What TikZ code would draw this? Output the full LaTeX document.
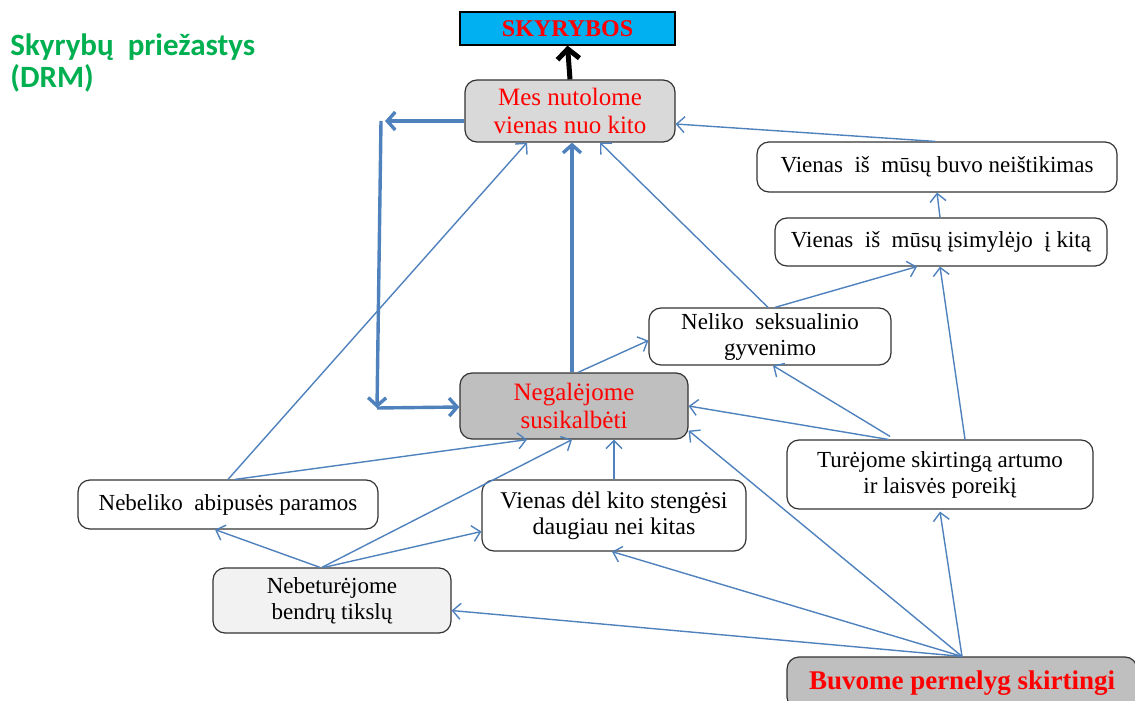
\documentclass[tikz,border=0pt]{standalone}
\usepackage{fontspec}
\setmainfont{Liberation Serif}
\newfontfamily\titlefont{Carlito}
\usetikzlibrary{calc,positioning,arrows.meta}

\definecolor{arrblue}{HTML}{4F81BD}
\definecolor{skyblue}{HTML}{00B0F0}
\definecolor{titlegreen}{HTML}{00B050}

\tikzset{
  cause/.style={draw=black!80,semithick,rounded corners=6pt,align=center,
    inner sep=2pt,font=\fontsize{11.5}{13}\selectfont,fill=white},
  keybox/.style={cause,text=red,font=\fontsize{12.5}{14}\selectfont},
  thinlink/.style={draw=arrblue,line width=0.7pt,-{Straight Barb[length=4pt,width=8pt]}},
  thicklink/.style={draw=arrblue,line width=1.7pt,-{Straight Barb[length=4pt,width=9pt,line width=1.7pt]}}
}

\begin{document}
\begin{tikzpicture}[x=0.5pt,y=-0.5pt]

\clip (0,0) rectangle (1135,701);

\node[anchor=north west,align=left,text=titlegreen,inner sep=0pt,
  font=\titlefont\bfseries\fontsize{15.5}{16}\selectfont] (title) at (10,33)
  {Skyrybų\ \ priežastys\\(DRM)};

\node[draw=black,semithick,fill=skyblue,minimum width=107.5pt,minimum height=16.5pt,
  text=red,font=\bfseries\fontsize{12}{13}\selectfont] (sky) at (567.5,28.5) {SKYRYBOS};

\node[keybox,fill=black!15,minimum width=105pt,minimum height=31pt] (mes) at (570,111)
  {Mes nutolome\\vienas nuo kito};
\node[keybox,fill=black!25,minimum width=114pt,minimum height=33pt] (neg) at (574,406)
  {Negalėjome\\susikalbėti};

\node[cause,minimum width=180pt,minimum height=25pt] (neist) at (937,167)
  {Vienas\ \ iš\ \ mūsų buvo neištikimas};
\node[cause,minimum width=166pt,minimum height=24pt] (isim) at (941,242)
  {Vienas\ \ iš\ \ mūsų įsimylėjo\ \ į kitą};
\node[cause,minimum width=121pt,minimum height=28.5pt] (nelik) at (770,336.5)
  {Neliko\ \ seksualinio\\gyvenimo};
\node[cause,minimum width=153pt,minimum height=34.5pt] (tur) at (940,474.5)
  {Turėjome skirtingą artumo\\ir laisvės poreikį};
\node[cause,minimum width=150pt,minimum height=24.5pt] (param) at (228,504.5)
  {Nebeliko\ \ abipusės paramos};
\node[cause,minimum width=132pt,minimum height=35.5pt,font=\fontsize{12}{13}\selectfont] (steng) at (614,515.5)
  {Vienas dėl kito stengėsi\\daugiau nei kitas};
\node[cause,fill=black!5,minimum width=119pt,minimum height=32.5pt] (tiksl) at (332,600.5)
  {Nebeturėjome\\bendrų tikslų};
\node[cause,fill=black!25,text=red,minimum width=175pt,minimum height=26pt,
  font=\bfseries\fontsize{13.5}{14}\selectfont] (buv) at (962,683)
  {Buvome\ pernelyg\ skirtingi};

% thick links
\draw[line width=2.5pt,-{Straight Barb[length=5pt,width=11pt,line width=2.5pt]}] (mes.north) -- (sky.south);
\coordinate (lt) at (381,121);
\coordinate (lb) at (377,408);
\draw[thicklink] ($(mes.west)+(0,10)$) -- ($(lt)+(4,0)$);
\draw[thicklink] (lt) -- (lb);
\draw[thicklink] (lb) -- ($(neg.west)+(0,1)$);
\draw[thicklink] ($(neg.north)+(-2,0)$) -- ($(mes.south)+(2,0)$);

% thin links
\draw[thinlink] ($(neist.north)+(-2,0)$) -- ($(mes.east)+(0,13)$);
\draw[thinlink] ($(isim.north)+(-1,0)$) -- (neist.south);
\draw[thinlink] ($(nelik.north)+(-2,0)$) -- ($(mes.south)+(30,0)$);
\draw[thinlink] ($(nelik.north)+(5,0)$) -- ($(isim.south)+(-24,0)$);
\draw[thinlink] ($(neg.north)+(4,0)$) -- ($(nelik.west)+(0,4)$);
\draw[thinlink] ($(tur.north)+(-50,-3)$) -- ($(nelik.south)+(3,0)$);
\draw[thinlink] ($(tur.north)+(-52,0)$) -- (neg.east);
\draw[thinlink] ($(tur.north)+(25,0)$) -- ($(isim.south)+(-1,0)$);
\draw[thinlink] (param.north) -- ($(mes.south)+(-43,0)$);
\draw[thinlink] ($(param.north)+(7,0)$) -- ($(neg.south)+(-47,0)$);
\draw[thinlink] (steng.north) -- ($(neg.south)+(40,0)$);
\draw[thinlink] ($(tiksl.north)+(-12,0)$) -- ($(param.south)+(-13,0)$);
\draw[thinlink] ($(tiksl.north)+(-10,0)$) -- ($(neg.south)+(-2,0)$);
\draw[thinlink] ($(tiksl.north)+(-8,0)$) -- ($(steng.west)+(0,16)$);
\draw[thinlink] (buv.north) -- ($(tiksl.east)+(0,10)$);
\draw[thinlink] (buv.north) -- ($(steng.south)+(-2,0)$);
\draw[thinlink] (buv.north) -- ($(neg.south east)+(0,-9)$);
\draw[thinlink] (buv.north) -- ($(tur.south)+(0,2)$);

\end{tikzpicture}
\end{document}
